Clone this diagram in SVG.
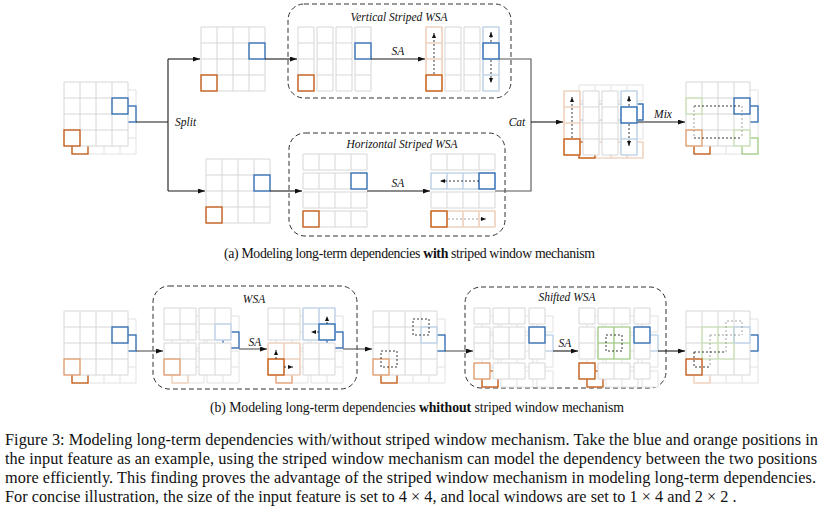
<svg xmlns="http://www.w3.org/2000/svg" xmlns:xlink="http://www.w3.org/1999/xlink" width="824" height="513" viewBox="0 0 824 513">
<style>
.g{fill:#fff;stroke:#d6d6d6;stroke-width:1}
.gb{fill:#fff;stroke:#e2e2e2;stroke-width:1}
.b{fill:none;stroke:#2f6db5;stroke-width:1.3}
.lb{fill:none;stroke:#bcd3ec;stroke-width:1.2}
.o{fill:none;stroke:#c55a11;stroke-width:1.3}
.mo{fill:none;stroke:#e39a66;stroke-width:1.2}
.lo{fill:none;stroke:#f6cfb3;stroke-width:1.2}
.gr{fill:none;stroke:#9fcf80;stroke-width:1.2}
.lg{fill:none;stroke:#c8e4b4;stroke-width:1.2}
.c{fill:none;stroke:#1a1a1a;stroke-width:1.1}
.cg{fill:none;stroke:#555;stroke-width:1.1}
.box{fill:none;stroke:#333;stroke-width:1;stroke-dasharray:5 3}
.da{fill:none;stroke:#222;stroke-width:0.9;stroke-dasharray:2 2}
.dg{fill:none;stroke:#999;stroke-width:0.9;stroke-dasharray:2 2}
.lbl{font-family:"Liberation Serif","Times New Roman",serif;font-style:italic;font-size:11.5px;fill:#111}
.cap{font-family:"Liberation Serif","Times New Roman",serif;font-size:13.8px;fill:#111}
.fig{font-family:"Liberation Serif","Times New Roman",serif;font-size:16.3px;fill:#111}
</style>
<defs>
<marker id="ah" viewBox="0 0 7 5" refX="7" refY="2.5" markerWidth="7" markerHeight="5" markerUnits="userSpaceOnUse" orient="auto"><path d="M0,0L7,2.5L0,5z" fill="#111"/></marker>
<marker id="as" viewBox="0 0 5 4" refX="5" refY="2" markerWidth="5" markerHeight="4" markerUnits="userSpaceOnUse" orient="auto"><path d="M0,0L5,2L0,4z" fill="#111"/></marker>
<path id="G4" d="M0,0H64V64H0Z M16,0V64 M32,0V64 M48,0V64 M0,16H64 M0,32H64 M0,48H64"/>
<path id="VS" d="M0,0h16v64h-16z M0,16h16 M0,32h16 M0,48h16 M19,0h16v64h-16z M19,16h16 M19,32h16 M19,48h16 M38,0h16v64h-16z M38,16h16 M38,32h16 M38,48h16 M57,0h16v64h-16z M57,16h16 M57,32h16 M57,48h16"/>
<path id="HS" d="M0,0h64v16h-64z M16,0v16 M32,0v16 M48,0v16 M0,19h64v16h-64z M16,19v16 M32,19v16 M48,19v16 M0,38h64v16h-64z M16,38v16 M32,38v16 M48,38v16 M0,57h64v16h-64z M16,57v16 M32,57v16 M48,57v16"/>
<path id="W4" d="M0,0h32v32h-32z M16,0v32 M0,16h32 M35,0h32v32h-32z M51,0v32 M35,16h32 M0,35h32v32h-32z M16,35v32 M0,51h32 M35,35h32v32h-32z M51,35v32 M35,51h32"/>
<path id="SW" d="M0,0h16v16h-16z M19,0h32v16h-32z M35,0v16 M55,0h16v16h-16z M0,19h16v32h-16z M0,35h16 M19,19h32v32h-32z M35,19v32 M19,35h32 M55,19h16v32h-16z M55,35h16 M0,55h16v16h-16z M19,55h32v16h-32z M35,55v16 M55,55h16v16h-16z"/>
<path id="COL" d="M0,0h16v64h-16z M0,16h16 M0,32h16 M0,48h16"/>
<path id="ROW" d="M0,0h64v16h-64z M16,0v16 M32,0v16 M48,0v16"/>
<path id="WIN" d="M0,0h32v32h-32z M16,0v32 M0,16h32"/>
</defs>
<rect width="824" height="513" fill="#fff"/>

<!-- ===== (a) ===== -->
<g id="a-input">
<use href="#G4" x="72" y="90" class="gb"/>
<rect x="120" y="106" width="16" height="16" class="b"/>
<rect x="72" y="138" width="16" height="16" class="o"/>
<use href="#G4" x="64" y="82" class="g"/>
<rect x="112" y="98" width="16" height="16" class="b"/>
<rect x="64" y="130" width="16" height="16" class="o"/>
</g>

<g id="a-split-top">
<use href="#G4" x="201" y="27" class="g"/>
<rect x="249" y="43" width="16" height="16" class="b"/>
<rect x="201" y="75" width="16" height="16" class="o"/>
</g>

<g id="a-vertical-wsa">
<rect x="288" y="4" width="223" height="94" rx="16" class="box"/>
<text x="399" y="21" text-anchor="middle" class="lbl">Vertical Striped WSA</text>
</g>
<g id="a-vs-in">
<use href="#VS" x="298" y="27" class="g"/>
<rect x="355" y="43" width="16" height="16" class="b"/>
<rect x="298" y="75" width="16" height="16" class="o"/>
</g>
<g id="a-vs-out">
<use href="#VS" x="426" y="27" class="g"/>
<use href="#COL" x="426" y="27" class="lo"/>
<rect x="426" y="75" width="16" height="16" class="o"/>
<use href="#COL" x="483" y="27" class="lb"/>
<rect x="483" y="43" width="16" height="16" class="b"/>
<path d="M434,74V33" class="da" marker-end="url(#as)"/>
<path d="M491,42V32" class="da" marker-end="url(#as)"/>
<path d="M491,60V83" class="da" marker-end="url(#as)"/>
</g>

<g id="a-split-bottom">
<use href="#G4" x="206" y="159" class="g"/>
<rect x="254" y="175" width="16" height="16" class="b"/>
<rect x="206" y="207" width="16" height="16" class="o"/>
</g>

<g id="a-horizontal-wsa">
<rect x="289" y="133" width="216" height="103" rx="16" class="box"/>
<text x="402" y="148" text-anchor="middle" class="lbl">Horizontal Striped WSA</text>
</g>
<g id="a-hs-in">
<use href="#HS" x="303" y="154" class="g"/>
<rect x="351" y="173" width="16" height="16" class="b"/>
<rect x="303" y="211" width="16" height="16" class="o"/>
</g>
<g id="a-hs-out">
<use href="#HS" x="431" y="154" class="g"/>
<use href="#ROW" x="431" y="173" class="lb"/>
<rect x="479" y="173" width="16" height="16" class="b"/>
<use href="#ROW" x="431" y="211" class="lo"/>
<rect x="431" y="211" width="16" height="16" class="o"/>
<path d="M479,181H440" class="da" marker-end="url(#as)"/>
<path d="M448,219H486" class="dg" marker-end="url(#as)"/>
</g>

<g id="a-cat">
<use href="#HS" x="579" y="85" class="gb"/>
<use href="#ROW" x="579" y="104" class="lb"/>
<rect x="627" y="104" width="16" height="16" class="b"/>
<use href="#ROW" x="579" y="142" class="lo"/>
<rect x="579" y="142" width="16" height="16" class="o"/>
<use href="#VS" x="564" y="91" class="g"/>
<use href="#COL" x="564" y="91" class="lo"/>
<rect x="564" y="139" width="16" height="16" class="o"/>
<use href="#COL" x="621" y="91" class="lb"/>
<rect x="621" y="107" width="16" height="16" class="b"/>
<path d="M572,138V97" class="da" marker-end="url(#as)"/>
<path d="M629,106V96" class="da" marker-end="url(#as)"/>
<path d="M629,124V146" class="da" marker-end="url(#as)"/>
</g>

<g id="a-mix">
<use href="#G4" x="694" y="90" class="gb"/>
<rect x="742" y="106" width="16" height="16" class="b"/>
<rect x="694" y="138" width="16" height="16" class="o"/>
<rect x="742" y="138" width="16" height="16" class="gr"/>
<use href="#G4" x="686" y="82" class="g"/>
<rect x="734" y="98" width="16" height="16" class="b"/>
<rect x="686" y="98" width="16" height="16" class="lg"/>
<rect x="734" y="130" width="16" height="16" class="lg"/>
<rect x="686" y="130" width="16" height="16" class="mo"/>
<path d="M694,106H742 M694,138H742" class="da"/>
<path d="M694,106V138 M742,106V138" class="dg"/>
</g>

<!-- ===== (b) ===== -->
<g id="b-input">
<use href="#G4" x="72" y="319" class="gb"/>
<rect x="120" y="335" width="16" height="16" class="b"/>
<rect x="72" y="367" width="16" height="16" class="o"/>
<use href="#G4" x="64" y="311" class="g"/>
<rect x="112" y="327" width="16" height="16" class="b"/>
<rect x="64" y="359" width="16" height="16" class="mo"/>
</g>

<g id="b-wsa">
<rect x="153" y="286" width="204" height="103" rx="16" class="box"/>
<text x="254" y="303" text-anchor="middle" class="lbl">WSA</text>
</g>
<g id="b-wsa-in">
<use href="#W4" x="172" y="316" class="gb"/>
<rect x="223" y="332" width="16" height="16" class="b"/>
<rect x="172" y="367" width="16" height="16" class="lo"/>
<use href="#W4" x="164" y="308" class="g"/>
<rect x="215" y="324" width="16" height="16" class="lb"/>
<rect x="164" y="359" width="16" height="16" class="mo"/>
</g>
<g id="b-wsa-out">
<use href="#W4" x="276" y="316" class="gb"/>
<rect x="327" y="332" width="16" height="16" class="b"/>
<rect x="276" y="367" width="16" height="16" class="mo"/>
<use href="#W4" x="268" y="308" class="g"/>
<use href="#WIN" x="303" y="308" class="lb"/>
<rect x="319" y="324" width="16" height="16" class="b"/>
<use href="#WIN" x="268" y="343" class="lo"/>
<rect x="268" y="359" width="16" height="16" class="o"/>
<path d="M327,324V316" class="da" marker-end="url(#as)"/>
<path d="M319,332H311" class="da" marker-end="url(#as)"/>
<path d="M276,359V350" class="da" marker-end="url(#as)"/>
<path d="M284,367H293" class="da" marker-end="url(#as)"/>
</g>

<g id="b-mid">
<use href="#G4" x="381" y="319" class="gb"/>
<rect x="429" y="335" width="16" height="16" class="b"/>
<rect x="381" y="367" width="16" height="16" class="o"/>
<use href="#G4" x="373" y="311" class="g"/>
<rect x="421" y="327" width="16" height="16" class="lb"/>
<rect x="373" y="359" width="16" height="16" class="mo"/>
<rect x="413" y="319" width="16" height="16" class="da"/>
<rect x="381" y="351" width="16" height="16" class="da"/>
</g>

<g id="b-shifted-wsa">
<rect x="465" y="287" width="201" height="101" rx="16" class="box"/>
<text x="567" y="301" text-anchor="middle" class="lbl">Shifted WSA</text>
</g>
<g id="b-sw-in">
<use href="#SW" x="482" y="316" class="gb"/>
<rect x="537" y="335" width="16" height="16" class="lb"/>
<rect x="482" y="371" width="16" height="16" class="o"/>
<use href="#SW" x="474" y="308" class="g"/>
<rect x="529" y="327" width="16" height="16" class="b"/>
<rect x="474" y="363" width="16" height="16" class="mo"/>
</g>
<g id="b-sw-out">
<use href="#SW" x="587" y="316" class="gb"/>
<rect x="642" y="335" width="16" height="16" class="lb"/>
<rect x="587" y="371" width="16" height="16" class="o"/>
<use href="#SW" x="579" y="308" class="g"/>
<use href="#WIN" x="598" y="327" class="gr"/>
<rect x="634" y="327" width="16" height="16" class="b"/>
<rect x="579" y="363" width="16" height="16" class="o"/>
<rect x="606" y="335" width="16" height="16" class="da"/>
</g>

<g id="b-output">
<use href="#G4" x="694" y="319" class="gb"/>
<rect x="742" y="335" width="16" height="16" class="b"/>
<rect x="694" y="367" width="16" height="16" class="lo"/>
<use href="#G4" x="686" y="311" class="g"/>
<use href="#WIN" x="702" y="327" class="lg"/>
<rect x="734" y="327" width="16" height="16" class="lb"/>
<rect x="686" y="359" width="16" height="16" class="o"/>
<path d="M726,352V321H742V335 M710,335H742 M710,335V367" class="dg"/>
<path d="M694,352H726 M694,352V367H710" class="da"/>
</g>

<!-- ===== connectors ===== -->
<g id="connectors">
<path d="M136,122H168 M168,59V191" class="c"/>
<path d="M168,59H200" class="c" marker-end="url(#ah)"/>
<path d="M168,191H205" class="c" marker-end="url(#ah)"/>
<path d="M265,59H297" class="c" marker-end="url(#ah)"/>
<path d="M371,59H425" class="c" marker-end="url(#ah)"/>
<path d="M270,191H302" class="c" marker-end="url(#ah)"/>
<path d="M367,191H430" class="c" marker-end="url(#ah)"/>
<path d="M499,59H531V191H495" class="cg"/>
<path d="M531,122H563" class="c" marker-end="url(#ah)"/>
<path d="M638,122H685" class="c" marker-end="url(#ah)"/>
<path d="M136,351H163" class="cg" marker-end="url(#ah)"/>
<path d="M239,349H267" class="cg" marker-end="url(#ah)"/>
<path d="M343,349H372" class="cg" marker-end="url(#ah)"/>
<path d="M445,351H473" class="cg" marker-end="url(#ah)"/>
<path d="M553,351H578" class="c" marker-end="url(#ah)"/>
<path d="M658,351H685" class="c" marker-end="url(#ah)"/>
<text x="175" y="126" class="lbl">Split</text>
<text x="398" y="55" text-anchor="middle" class="lbl">SA</text>
<text x="398" y="187" text-anchor="middle" class="lbl">SA</text>
<text x="517" y="126" text-anchor="middle" class="lbl">Cat</text>
<text x="663" y="118" text-anchor="middle" class="lbl">Mix</text>
<text x="255" y="346" text-anchor="middle" class="lbl">SA</text>
<text x="565" y="347" text-anchor="middle" class="lbl">SA</text>
</g>

<!-- ===== captions ===== -->
<text x="224" y="258" class="cap" textLength="371" lengthAdjust="spacing">(a) Modeling long-term dependencies <tspan font-weight="bold">with</tspan> striped window mechanism</text>
<text x="210" y="412" class="cap" textLength="414" lengthAdjust="spacing">(b) Modeling long-term dependencies <tspan font-weight="bold">whithout</tspan> striped window mechanism</text>
<text x="5" y="445" class="fig" textLength="813" lengthAdjust="spacing">Figure 3: Modeling long-term dependencies with/without striped window mechanism. Take the blue and orange positions in</text>
<text x="5" y="464" class="fig" textLength="812" lengthAdjust="spacing">the input feature as an example, using the striped window mechanism can model the dependency between the two positions</text>
<text x="5" y="483" class="fig" textLength="811" lengthAdjust="spacing">more efficiently. This finding proves the advantage of the striped window mechanism in modeling long-term dependencies.</text>
<text x="5" y="502" class="fig">For concise illustration, the size of the input feature is set to 4 × 4, and local windows are set to 1 × 4 and 2 × 2 .</text>
</svg>
